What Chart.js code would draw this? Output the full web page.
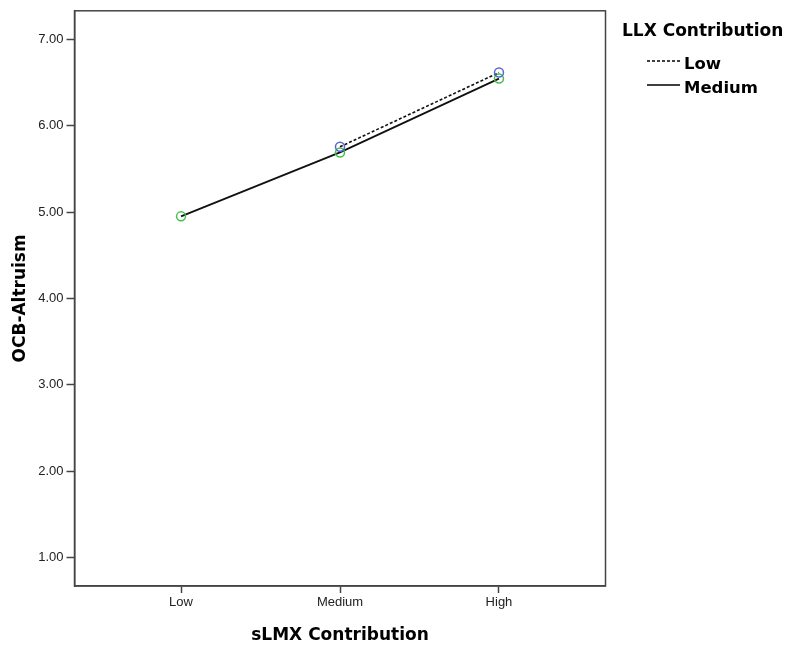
<!DOCTYPE html>
<html>
<head>
<meta charset="utf-8">
<script src="https://cdn.jsdelivr.net/npm/chart.js@4.4.1/dist/chart.umd.min.js"></script>
<style>
  html, body { margin: 0; padding: 0; background: #fff; }
  #wrap { width: 787px; height: 649px; }
</style>
</head>
<body>
<div id="wrap"><canvas id="chart" width="787" height="649"></canvas></div>
<script>
const categories = ['Low', 'Medium', 'High'];
const lowLLX = [null, 5.755, 6.615];
const mediumLLX = [4.95, 5.69, 6.545];
const yTicks = [1, 2, 3, 4, 5, 6, 7];
const legendTitle = 'LLX Contribution';
const seriesNames = ['Low', 'Medium'];

const toPoints = (arr) => arr.map((v, i) => ({ x: i, y: v }));

// box round the plot area + SPSS style legend
const boxAndLegend = {
    id: 'boxAndLegend',
    afterDraw(chart) {
        const { ctx, chartArea: a } = chart;
        ctx.save();
        ctx.strokeStyle = '#444';
        ctx.lineWidth = 1.5;
        ctx.strokeRect(a.left, a.top, a.right - a.left, a.bottom - a.top);

        ctx.fillStyle = '#000';
        ctx.textBaseline = 'alphabetic';
        ctx.font = 'bold 17px "DejaVu Sans"';
        ctx.fillText(legendTitle, 622, 36);

        ctx.font = 'bold 16.5px "DejaVu Sans"';
        const rows = [
            { name: seriesNames[0], dash: [3, 2], y: 61, base: 69 },
            { name: seriesNames[1], dash: [], y: 85, base: 93 },
        ];
        rows.forEach(r => {
            ctx.beginPath();
            ctx.setLineDash(r.dash);
            ctx.lineWidth = 1.5;
            ctx.strokeStyle = '#000';
            ctx.moveTo(647, r.y);
            ctx.lineTo(680, r.y);
            ctx.stroke();
            ctx.setLineDash([]);
            ctx.fillText(r.name, 684, r.base);
        });
        ctx.restore();
    }
};

new Chart('chart', {
    type: 'line',
    data: {
        datasets: [
            {
                label: seriesNames[0],
                data: toPoints(lowLLX),
                borderColor: '#111',
                borderWidth: 1.6,
                borderDash: [3, 2],
                pointBorderColor: '#5468d0',
                pointBackgroundColor: 'rgba(0,0,0,0)',
                pointRadius: 4.5,
                pointBorderWidth: 1.5,
                spanGaps: false,
            },
            {
                label: seriesNames[1],
                data: toPoints(mediumLLX),
                borderColor: '#111',
                borderWidth: 1.8,
                pointBorderColor: '#45c04f',
                pointBackgroundColor: 'rgba(0,0,0,0)',
                pointRadius: 4.5,
                pointBorderWidth: 1.5,
            },
        ]
    },
    options: {
        responsive: false,
        animation: false,
        layout: { padding: { top: 9.5, right: 181.5, left: 0, bottom: 0 } },
        plugins: {
            legend: { display: false },
            tooltip: { enabled: false },
        },
        scales: {
            x: {
                type: 'linear',
                min: -0.67,
                max: 2.67,
                afterBuildTicks: (scale) => { scale.ticks = categories.map((c, i) => ({ value: i })); },
                afterFit: (scale) => { scale.height = 63; },
                ticks: {
                    callback: (v) => categories[v],
                    color: '#222',
                    font: { family: '"Liberation Sans", Arial', size: 13 },
                    padding: 2,
                    maxRotation: 0,
                },
                grid: { drawOnChartArea: false, tickLength: 7, color: '#444', tickWidth: 1.5 },
                border: { color: '#444', width: 1.5 },
                title: {
                    display: true,
                    text: 'sLMX Contribution',
                    color: '#000',
                    font: { family: '"DejaVu Sans"', size: 17, weight: 'bold' },
                    padding: { top: 0, bottom: 3 },
                },
            },
            y: {
                min: 0.67,
                max: 7.33,
                afterBuildTicks: (scale) => { scale.ticks = yTicks.map(v => ({ value: v })); },
                afterFit: (scale) => { scale.width = 74.5; },
                ticks: {
                    callback: (v) => v.toFixed(2),
                    color: '#222',
                    font: { family: '"Liberation Sans", Arial', size: 13 },
                    padding: 3,
                },
                grid: { drawOnChartArea: false, tickLength: 8, color: '#444', tickWidth: 1.5 },
                border: { color: '#444', width: 1.5 },
                title: {
                    display: true,
                    text: 'OCB-Altruism',
                    color: '#000',
                    font: { family: '"DejaVu Sans"', size: 17, weight: 'bold' },
                    padding: { top: 10, bottom: 0 },
                },
            },
        },
    },
    plugins: [boxAndLegend],
});
</script>
</body>
</html>
